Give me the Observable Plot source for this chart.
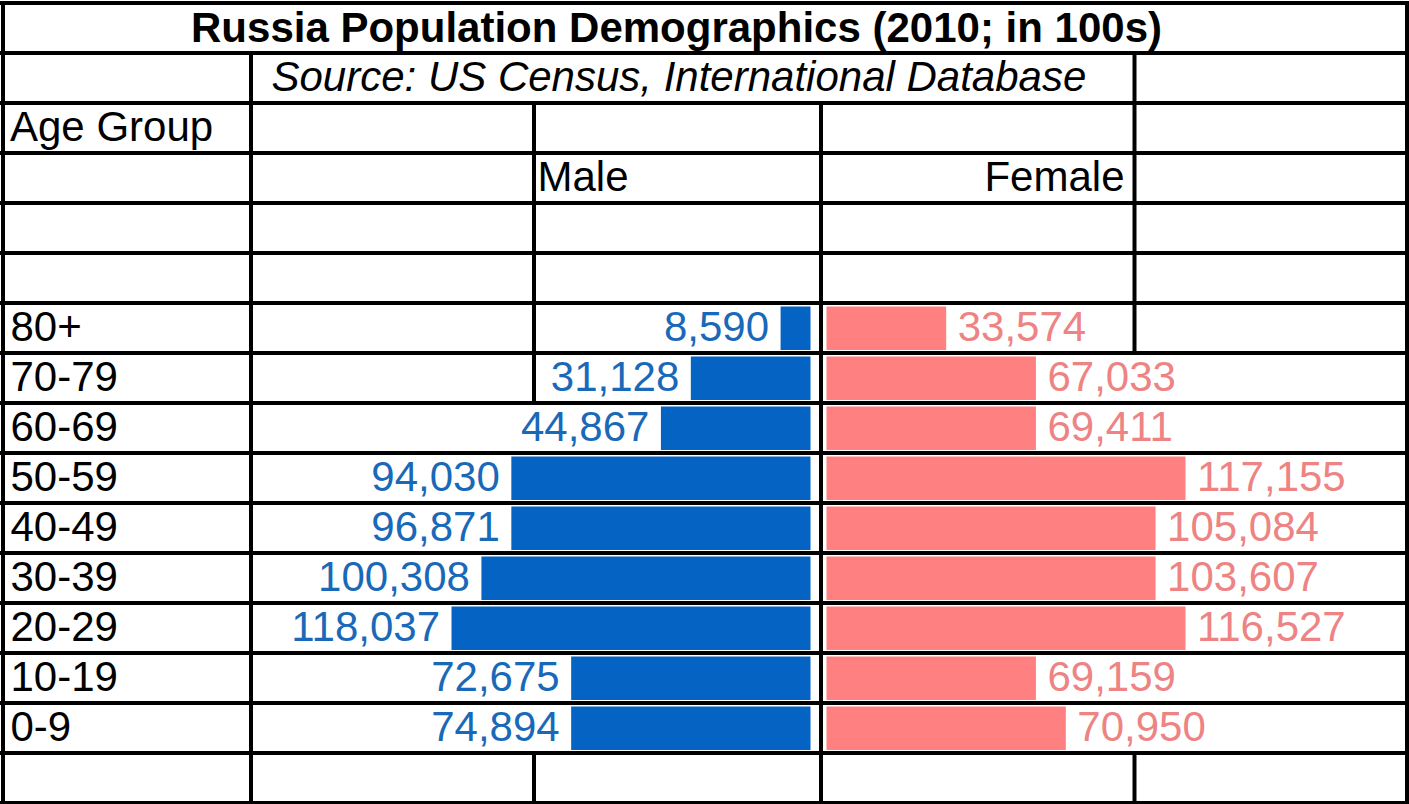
<!DOCTYPE html>
<html><head><meta charset="utf-8">
<script src="https://cdn.jsdelivr.net/npm/d3@7"></script>
<script src="https://cdn.jsdelivr.net/npm/@observablehq/plot@0.6"></script>
<style>html,body{margin:0;padding:0;background:#fff;overflow:hidden}</style>
</head><body><div id="chart"></div>
<script>
// ---------- data ----------
const ageGroups = ["80+", "70-79", "60-69", "50-59", "40-49", "30-39", "20-29", "10-19", "0-9"];
const maleValues = [8590, 31128, 44867, 94030, 96871, 100308, 118037, 72675, 74894];
const femaleValues = [33574, 67033, 69411, 117155, 105084, 103607, 116527, 69159, 70950];
// bar lengths as drawn in the sheet (units of 10,000)
const maleBarUnits = [1, 4, 5, 10, 10, 11, 12, 8, 8];
const femaleBarUnits = [4, 7, 7, 12, 11, 11, 12, 7, 8];
const titleText = "Russia Population Demographics (2010; in 100s)";
const sourceText = "Source: US Census, International Database";
const ageHeader = "Age Group";
const sexLabels = ["Male", "Female"];

// ---------- layout ----------
const W = 1409, H = 804;
const nRows = 16, firstAgeRow = 6;
const xRange = [461.5, 1179.5];                     // pixel span for -120,000 .. 120,000
const xAt = p => (p - 820.5) / 359 * 120000;        // layout pixel -> x value
const colLines = [2.5, 250.5, 533.5, 820.5, 1134, 1406.5].map(xAt);
const vSegs = [
  {c: 0, r1: 0, r2: 16}, {c: 5, r1: 0, r2: 16},
  {c: 1, r1: 1, r2: 16},
  {c: 2, r1: 2, r2: 8}, {c: 2, r1: 15, r2: 16},
  {c: 3, r1: 2, r2: 16},
  {c: 4, r1: 1, r2: 7}, {c: 4, r1: 15, r2: 16}
];

const maleBar = "#0563C4", femaleBar = "#FF8080";
const maleText = "#1A69B8", femaleText = "#EE8383";
const fs = 42;
const fmt = d3.format(",");

const rows = ageGroups.map((g, i) => ({
  g, row: firstAgeRow + i,
  male: maleValues[i], female: femaleValues[i],
  mLen: maleBarUnits[i] * 10000, fLen: femaleBarUnits[i] * 10000
}));

const chart = Plot.plot({
  width: W, height: H, margin: 0,
  x: {domain: [-120000, 120000], range: xRange, axis: null},
  y: {domain: [0, nRows], range: [2.5, 802.5], axis: null},
  style: {fontFamily: "'Liberation Sans', Arial, sans-serif", background: "#fff", color: "#000"},
  marks: [
    Plot.rect(rows, {x1: d => -d.mLen, x2: 0, y1: "row", y2: d => d.row + 1, fill: maleBar, dx: -10, insetTop: 4, insetBottom: 2.5}),
    Plot.rect(rows, {x1: 0, x2: "fLen", y1: "row", y2: d => d.row + 1, fill: femaleBar, dx: 6, insetTop: 4, insetBottom: 2.5}),
    Plot.ruleY(d3.range(0, nRows + 1), {y: d => d, stroke: "#000", strokeWidth: 4}),
    Plot.ruleX(vSegs, {x: d => colLines[d.c], y1: "r1", y2: "r2", stroke: "#000", strokeWidth: 4}),
    Plot.text([titleText], {x: xAt(676), y: 0.5, fontWeight: "bold", fontSize: 42, textAnchor: "middle", dy: 1}),
    Plot.text([sourceText], {x: xAt(271), y: 1.5, fontStyle: "italic", fontSize: fs, textAnchor: "start"}),
    Plot.text([ageHeader], {x: xAt(9.5), y: 2.5, fontSize: fs, textAnchor: "start"}),
    Plot.text([sexLabels[0]], {x: xAt(537), y: 3.5, fontSize: fs, textAnchor: "start"}),
    Plot.text([sexLabels[1]], {x: xAt(1124), y: 3.5, fontSize: fs, textAnchor: "end"}),
    Plot.text(rows, {x: xAt(10), y: d => d.row + 0.5, text: "g", fontSize: fs, textAnchor: "start"}),
    Plot.text(rows, {x: d => -d.mLen, y: d => d.row + 0.5, text: d => fmt(d.male), fill: maleText, fontSize: fs, textAnchor: "end", dx: -22}),
    Plot.text(rows, {x: d => d.fLen, y: d => d.row + 0.5, text: d => fmt(d.female), fill: femaleText, fontSize: fs, textAnchor: "start", dx: 17})
  ]
});
document.getElementById("chart").appendChild(chart);
</script>
</body></html>
